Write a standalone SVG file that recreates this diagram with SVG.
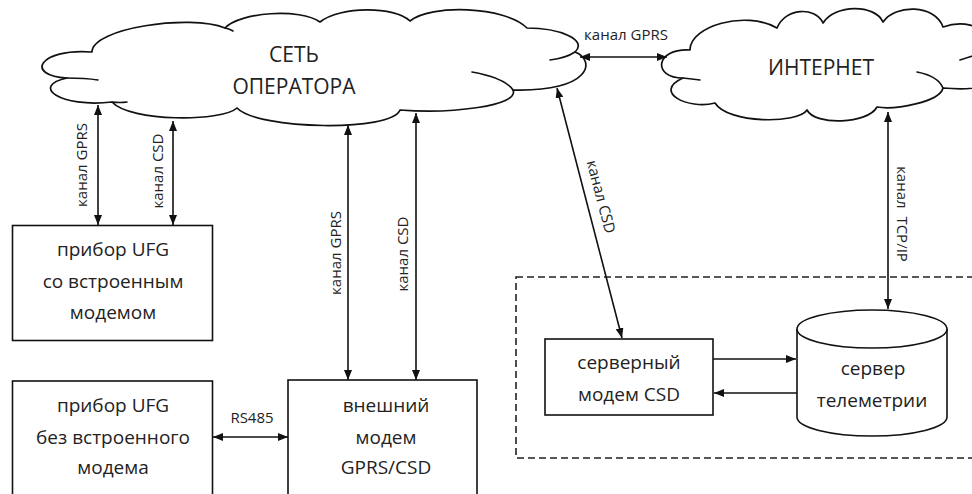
<svg xmlns="http://www.w3.org/2000/svg" width="972" height="494" viewBox="0 0 972 494">
<defs>
<style>
.ln{stroke:#111;stroke-width:1.6;fill:none}
.bi{marker-start:url(#ah);marker-end:url(#ah)}
.one{marker-end:url(#ah)}
.box{fill:#fff;stroke:#111;stroke-width:1.6}
.cl{fill:#fff;stroke:#111;stroke-width:1.7;stroke-linejoin:round}
.tl{fill:none;stroke:#111;stroke-width:1.6;stroke-linecap:round}
.t{font-family:"Open Sans","Noto Sans",sans-serif;font-size:19px;fill:#222;text-anchor:middle}
.big{font-size:21px}
.lb{font-family:"Open Sans","Noto Sans",sans-serif;font-size:15px;fill:#222;text-anchor:middle}
</style>
<marker id="ah" viewBox="0 0 10 8" refX="10" refY="4" markerWidth="10" markerHeight="8" markerUnits="userSpaceOnUse" orient="auto-start-reverse"><path d="M0,0 L10,4 L0,8 z" fill="#111"/></marker>
</defs>

<g id="operator-net">
<path class="cl" d="M92,52 C92,28 190,14 225,28 C240,12 300,8 320,22 C340,6 395,6 410,21 C430,4 505,6 527,28 C560,28 588,40 575,52 C596,60 592,92 513,90 C520,106 450,114 400,110 C392,132 258,130 237,108 C222,122 130,122 112,102 C60,108 30,86 67,78 C25,76 38,48 92,52 Z"/>
<path class="tl" d="M67,78 Q85,78 98,80"/>
<path class="tl" d="M112,102 Q120,103 127,102"/>
<path class="tl" d="M472,72 Q505,78 513,90"/>
<path class="tl" d="M550,60 Q566,58 575,52"/>
<path class="tl" d="M225,28 Q230,29 233,31"/>
<text class="t big" x="294" y="62">СЕТЬ</text>
<text class="t big" x="294" y="94">ОПЕРАТОРА</text>
</g>

<g id="internet">
<path class="cl" d="M690,50 C690,26 745,10 777,28 C785,8 815,6 823,23 C835,4 875,4 883,22 C895,4 935,4 943,27 C985,12 1005,55 990,62 C1005,80 990,92 943,88 C940,102 895,110 877,107 C868,124 815,126 807,110 C798,124 728,124 715,103 C688,110 652,92 683,78 C652,78 655,48 690,50 Z"/>
<path class="tl" d="M683,78 Q692,79 700,80"/>
<path class="tl" d="M917,72 Q938,76 943,88"/>
<path class="tl" d="M960,60 Q975,55 985,52"/>
<text class="t big" x="821" y="75">ИНТЕРНЕТ</text>
</g>

<g id="ufg-modem">
<rect class="box" x="12.5" y="225.5" width="200" height="115"/>
<text class="t" x="113" y="256">прибор UFG</text>
<text class="t" x="113" y="288">со встроенным</text>
<text class="t" x="113" y="319">модемом</text>
</g>

<g id="ufg-nomodem">
<rect class="box" x="12.5" y="381" width="200" height="130"/>
<text class="t" x="113" y="412">прибор UFG</text>
<text class="t" x="113" y="444">без встроенного</text>
<text class="t" x="113" y="474">модема</text>
</g>

<g id="ext-modem">
<rect class="box" x="288" y="380" width="189" height="130"/>
<text class="t" x="386" y="412">внешний</text>
<text class="t" x="386" y="444">модем</text>
<text class="t" x="386" y="474">GPRS/CSD</text>
</g>

<g id="server-zone">
<rect x="516" y="277" width="480" height="181" fill="none" stroke="#222" stroke-width="1.6" stroke-dasharray="7 4"/>
</g>

<g id="server-modem">
<rect class="box" x="545" y="339" width="168" height="76"/>
<text class="t" x="629" y="369">серверный</text>
<text class="t" x="629" y="401">модем CSD</text>
</g>

<g id="telemetry-server">
<path class="box" d="M797,329 L797,417 A75,19 0 0 0 947,417 L947,329"/>
<ellipse class="box" cx="872" cy="329" rx="75" ry="19"/>
<text class="t" x="873" y="375">сервер</text>
<text class="t" x="872" y="407">телеметрии</text>
</g>

<g id="connectors">
<line class="ln bi" x1="580" y1="57" x2="667" y2="57"/>
<line class="ln bi" x1="98" y1="105" x2="98" y2="225"/>
<line class="ln bi" x1="173" y1="121" x2="173" y2="225"/>
<line class="ln bi" x1="348" y1="125" x2="348" y2="380"/>
<line class="ln bi" x1="416" y1="113" x2="416" y2="380"/>
<line class="ln bi" x1="213" y1="437" x2="288" y2="437"/>
<line class="ln bi" x1="557" y1="88" x2="622" y2="338"/>
<line class="ln bi" x1="888" y1="112" x2="888" y2="309"/>
<line class="ln one" x1="713" y1="359" x2="796" y2="359"/>
<line class="ln one" x1="797" y1="393" x2="714" y2="393"/>
<text class="lb" x="626" y="40">канал GPRS</text>
<text class="lb" transform="translate(87,165) rotate(-90)">канал GPRS</text>
<text class="lb" transform="translate(163,171) rotate(-90)">канал CSD</text>
<text class="lb" transform="translate(341,253) rotate(-90)">канал GPRS</text>
<text class="lb" transform="translate(408,254) rotate(-90)">канал CSD</text>
<text class="lb" transform="translate(596,198) rotate(75.4)">канал CSD</text>
<text class="lb" transform="translate(897,214) rotate(90)" xml:space="preserve">канал  TCP/IP</text>
<text class="lb" x="252" y="423">RS485</text>
</g>
</svg>
